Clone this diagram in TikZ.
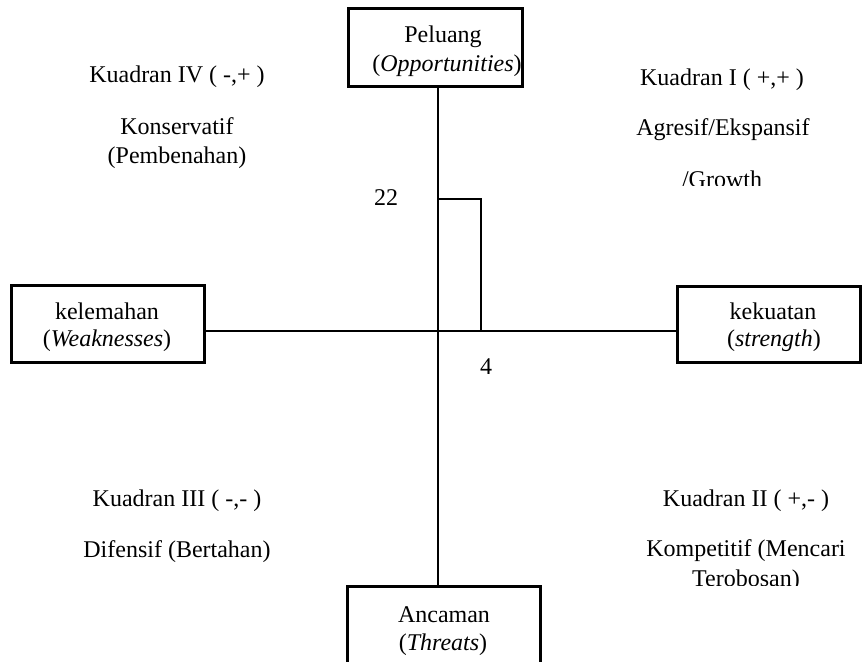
\documentclass[tikz,border=0pt]{standalone}
\usepackage{fontspec}
\setmainfont{Liberation Serif}
\begin{document}
\begin{tikzpicture}[x=0.5pt,y=-0.5pt,
  box/.style={draw, line width=1.5pt, inner sep=0pt, rectangle},
  axis/.style={line width=0.6pt},
  txt/.style={anchor=base, inner sep=0pt, font=\fontsize{12}{14}\selectfont}]
\useasboundingbox (0,0) rectangle (862,662);
\clip (0,0) rectangle (862,662);
% boxes
\node[box, minimum width=87pt, minimum height=39pt] (O) at (435,48) {};
\node[box, minimum width=96.5pt, minimum height=57pt] (T) at (443.5,643) {};
\node[box, minimum width=96.5pt, minimum height=38.5pt] (W) at (107.5,324.5) {};
\node[box, minimum width=91.5pt, minimum height=38pt] (S) at (768.5,325) {};
% axes
\coordinate (c) at (438,331);
\coordinate (r) at (481,199);
\draw[axis] (O.south -| c) -- (T.north -| c);
\draw[axis] (W.east |- c) -- (S.west |- c);
\draw[axis] (c |- r) -- (r) -- (r |- c);
% box texts
\node[txt] (o1) at (443,43) {Peluang};
\node[txt] (o2) at (447,72) {(\textit{Opportunities})};
\node[txt] (t1) at (444,622) {Ancaman};
\node[txt] (t2) at (443,650) {(\textit{Threats})};
\node[txt] (w1) at (107,320) {kelemahan};
\node[txt] (w2) at (107,347) {(\textit{Weaknesses})};
\node[txt] (s1) at (773,320) {kekuatan};
\node[txt] (s2) at (774,347) {(\textit{strength})};
% values
\node[txt] (v22) at (386,206) {22};
\node[txt] (v4) at (486,375) {4};
% quadrant texts
\node[txt] (q4a) at (177,83) {Kuadran IV ( -,+ )};
\node[txt] (q4b) at (177,135) {Konservatif};
\node[txt] (q4c) at (177,164) {(Pembenahan)};
\node[txt] (q1a) at (722,86) {Kuadran I ( +,+ )};
\node[txt] (q1b) at (723,136) {Agresif/Ekspansif};
\begin{scope}
\clip (560,100) rectangle (862,186);
\node[txt] (q1c) at (722,188) {/Growth};
\end{scope}
\node[txt] (q3a) at (177,507) {Kuadran III ( -,- )};
\node[txt] (q3b) at (177,557) {Difensif (Bertahan)};
\node[txt] (q2a) at (746,506) {Kuadran II ( +,- )};
\node[txt] (q2b) at (746,556) {Kompetitif (Mencari};
\begin{scope}
\clip (560,560) rectangle (862,585);
\node[txt] (q2c) at (746,586) {Terobosan)};
\end{scope}
\end{tikzpicture}
\end{document}
